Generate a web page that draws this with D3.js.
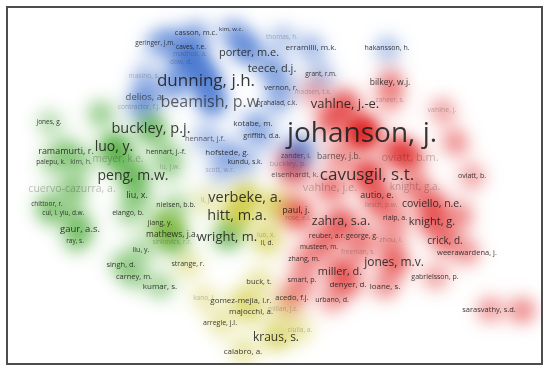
<!DOCTYPE html>
<html>
<head>
<meta charset="utf-8">
<script src="https://d3js.org/d3.v7.min.js"></script>
<style>
  body { margin: 0; background: #fff; }
  #chart { position: relative; width: 550px; height: 372px; }
  #chart canvas, #chart svg { position: absolute; left: 0; top: 0; }
  .label { font-family: "Open Sans", sans-serif; fill: #1c1c1c; text-anchor: middle; }
</style>
</head>
<body>
<div id="chart"></div>
<script>

// co-citation map: [author, map x, map y, citations]
var blueNodes = [
  ["casson, m.c.", 39.2, 6.4, 72], ["kim, w.c.", 46.2, 5.8, 46], ["thomas, h.", 56.4, 7.4, 54],
  ["geringer, j.m.", 31.0, 8.6, 54], ["caves, r.e.", 38.2, 9.4, 54], ["madhok, a.", 38.0, 10.8, 54],
  ["dow, d.", 36.2, 12.4, 54], ["porter, m.e.", 49.8, 10.4, 154], ["teece, d.j.", 54.4, 13.6, 154],
  ["makino, s.", 28.8, 15.2, 54], ["dunning, j.h.", 41.2, 16.0, 369], ["vernon, r.", 56.2, 17.4, 72],
  ["delios, a.", 29.0, 19.4, 115], ["beamish, p.w.", 42.4, 20.2, 327], ["prahalad, c.k.", 55.4, 20.6, 54],
  ["contractor, f.j.", 27.8, 21.4, 54], ["kotabe, m.", 50.6, 24.6, 82], ["griffith, d.a.", 52.4, 27.2, 63],
  ["hennart, j.f.", 41.0, 27.6, 72], ["hofstede, g.", 45.4, 30.4, 82], ["kundu, s.k.", 49.0, 32.4, 63],
  ["scott, w.r.", 44.0, 34.0, 54], ["erramilli, m.k.", 62.2, 9.4, 82], ["hakansson, h.", 77.4, 9.6, 63],
  ["grant, r.m.", 64.2, 14.8, 54], ["zander, i.", 59.2, 31.2, 63], ["kogut, b.", 34.6, 17.0, 180],
  ["hymer, s.h.", 39.0, 13.0, 200], ["anderson, e.", 34.0, 8.0, 120], ["barkema, h.g.", 48.0, 8.0, 110],
  ["gatignon, h.", 60.0, 29.6, 130]
];

var redNodes = [
  ["johanson, j.", 72.4, 26.4, 1000], ["cavusgil, s.t.", 73.4, 34.8, 369], ["vahlne, j.-e.", 69.0, 20.6, 216],
  ["bilkey, w.j.", 78.0, 16.4, 92], ["madsen, t.k.", 62.6, 18.4, 54], ["zaheer, s.", 78.0, 20.0, 54],
  ["vahlne, j.", 88.4, 22.0, 63], ["barney, j.b.", 67.8, 31.2, 92], ["buckley, p.", 57.6, 32.6, 72],
  ["eisenhardt, k.", 59.0, 34.8, 72], ["oviatt, b.m.", 82.0, 31.4, 154], ["vahlne, j.e.", 66.0, 37.4, 154],
  ["knight, g.a.", 83.0, 37.2, 128], ["oviatt, b.", 94.4, 35.2, 63], ["autio, e.", 75.4, 39.0, 103],
  ["liesch, p.w.", 76.2, 41.0, 54], ["coviello, n.e.", 86.4, 40.6, 141], ["paul, j.", 59.2, 42.0, 103],
  ["rose, e.l.", 59.6, 43.6, 54], ["zahra, s.a.", 68.2, 44.2, 199], ["rialp, a.", 79.0, 43.6, 63],
  ["knight, g.", 86.4, 44.2, 154], ["reuber, a.r.", 65.4, 47.2, 63], ["george, g.", 72.4, 47.2, 63],
  ["zhou, l.", 78.2, 48.0, 63], ["crick, d.", 89.0, 48.0, 128], ["musteen, m.", 63.8, 49.4, 54],
  ["weerawardena, j.", 93.4, 50.4, 72], ["freeman, s.", 71.6, 50.4, 54], ["zhang, m.", 60.8, 51.8, 63],
  ["jones, m.v.", 78.8, 52.4, 184], ["miller, d.", 68.0, 54.2, 154], ["smart, p.", 60.4, 56.0, 63],
  ["denyer, d.", 69.6, 56.8, 82], ["loane, s.", 77.0, 57.2, 82], ["gabrielsson, p.", 87.0, 55.4, 63],
  ["urbano, d.", 66.4, 60.0, 63], ["sarasvathy, s.d.", 97.8, 61.8, 72], ["acedo, f.j.", 58.4, 59.4, 72],
  ["read, s.", 104.4, 62.0, 100], ["mcdougall, p.p.", 79.4, 30.0, 260], ["knight, j.", 91.0, 28.4, 90],
  ["bell, j.", 92.0, 43.0, 90], ["welch, l.s.", 66.0, 24.0, 200]
];

var greenNodes = [
  ["jones, g.", 9.8, 24.4, 54], ["buckley, p.j.", 30.2, 25.6, 268], ["luo, y.", 22.8, 29.2, 250],
  ["ramamurti, r.", 13.2, 30.2, 103], ["meyer, k.e.", 23.6, 31.6, 128], ["kim, h.", 16.2, 32.4, 63],
  ["palepu, k.", 10.2, 32.4, 54], ["hennart, j.-f.", 33.2, 30.4, 63], ["lu, j.w.", 34.0, 33.4, 63],
  ["peng, m.w.", 26.6, 35.0, 250], ["cuervo-cazurra, a.", 14.4, 37.6, 141], ["liu, x.", 27.4, 39.0, 103],
  ["chittoor, r.", 9.4, 40.8, 54], ["nielsen, b.b.", 35.2, 41.0, 63], ["cui, l.", 10.0, 42.6, 54],
  ["yiu, d.w.", 14.4, 42.6, 54], ["elango, b.", 25.6, 42.6, 63], ["jiang, y.", 32.0, 44.6, 63],
  ["gaur, a.s.", 16.0, 45.8, 115], ["mathews, j.a.", 34.4, 46.8, 92], ["sinkovics, r.r.", 34.4, 48.4, 54],
  ["ray, s.", 15.0, 48.2, 54], ["wright, m.", 45.4, 47.2, 216], ["liu, y.", 28.2, 50.0, 63],
  ["singh, d.", 24.2, 52.8, 72], ["carney, m.", 26.8, 55.2, 72], ["kumar, s.", 32.0, 57.2, 82],
  ["kostova, t.", 20.0, 22.6, 110]
];

var yellowNodes = [
  ["verbeke, a.", 49.0, 39.4, 268], ["hitt, m.a.", 47.4, 43.0, 268], ["rugman, a.m.", 55.0, 41.0, 200],
  ["li, j.", 41.2, 40.0, 54], ["luo, x.", 53.2, 47.0, 54], ["li, d.", 53.4, 48.6, 54],
  ["strange, r.", 37.6, 52.8, 63], ["buck, t.", 51.8, 56.2, 72], ["kano, l.", 40.8, 59.6, 54],
  ["gomez-mejia, l.r.", 48.2, 60.0, 82], ["majocchi, a.", 50.2, 62.2, 82], ["millan, j.c.", 56.6, 61.8, 54],
  ["arregle, j.l.", 44.0, 64.6, 63], ["kraus, s.", 55.2, 67.4, 184], ["ciulla, a.", 60.0, 66.0, 54],
  ["calabro, a.", 48.6, 70.2, 82], ["yamakawa, y.", 33.6, 45.6, 80]
];

// labels drawn half-transparent / nearly hidden / not at all
var greyLabels = ["delios, a.", "beamish, p.w.", "hennart, j.f.", "zander, i.", "eisenhardt, k.",
  "barney, j.b.", "kim, h."];
var fadedLabels = ["thomas, h.", "madhok, a.", "dow, d.", "makino, s.", "contractor, f.j.", "scott, w.r.",
  "madsen, t.k.", "zaheer, s.", "vahlne, j.", "buckley, p.", "oviatt, b.m.", "vahlne, j.e.", "knight, g.a.",
  "liesch, p.w.", "rose, e.l.", "zhou, l.", "freeman, s.", "meyer, k.e.", "lu, j.w.", "cuervo-cazurra, a.",
  "sinkovics, r.r.", "li, j.", "luo, x.", "kano, l.", "millan, j.c.", "ciulla, a."];
var hiddenLabels = ["read, s.", "rugman, a.m.", "kogut, b.", "mcdougall, p.p.", "knight, j.", "bell, j.",
  "kostova, t.", "yamakawa, y.", "hymer, s.h.", "anderson, e.", "barkema, h.g.", "gatignon, h.", "welch, l.s."];

var clusterColors = [[62, 112, 206], [222, 26, 26], [66, 166, 46], [204, 198, 46]];

var width = 550, height = 372;

var nodes = [];
[blueNodes, redNodes, greenNodes, yellowNodes].forEach(function(list, c) {
  list.forEach(function(d) {
    nodes.push({ name: d[0], x: d[1], y: d[2], w: d[3], cluster: c });
  });
});

var x = d3.scaleLinear().domain([0, 110]).range([0, width]);
var y = d3.scaleLinear().domain([0, 74.4]).range([0, height]);
var fontSize = d3.scaleSqrt().domain([0, 1000]).range([0, 28]);

// frame of the map
var frame = { x0: 8, y0: 8, x1: 542, y1: 364 };

// density layer
var canvas = d3.select("#chart").append("canvas")
    .attr("width", width)
    .attr("height", height);
var ctx = canvas.node().getContext("2d");
var img = ctx.createImageData(width, height);

var sigma = 12, s2 = 2 * sigma * sigma, cut = sigma * 3.5;
var K = 17;
var pts = nodes.map(function(d) {
  return { px: x(d.x), py: y(d.y), a: Math.sqrt(d.w), c: d.cluster };
});

for (var j = 0; j < height; j++) {
  for (var i = 0; i < width; i++) {
    var k = (j * width + i) * 4;
    var r = 255, g = 255, b = 255;
    if (i >= frame.x0 && i < frame.x1 && j >= frame.y0 && j < frame.y1) {
      var dens = [0, 0, 0, 0];
      for (var p = 0; p < pts.length; p++) {
        var dx = i - pts[p].px, dy = j - pts[p].py;
        if (dx > cut || dx < -cut || dy > cut || dy < -cut) continue;
        dens[pts[p].c] += pts[p].a * Math.exp(-(dx * dx + dy * dy) / s2);
      }
      var tot = dens[0] + dens[1] + dens[2] + dens[3];
      if (tot > 0.01) {
        var cr = 0, cg = 0, cb = 0;
        for (var c = 0; c < 4; c++) {
          cr += dens[c] * clusterColors[c][0];
          cg += dens[c] * clusterColors[c][1];
          cb += dens[c] * clusterColors[c][2];
        }
        cr /= tot; cg /= tot; cb /= tot;
        var t = 1 - Math.exp(-Math.pow(tot / K, 1.4));
        r = 255 + (cr - 255) * t;
        g = 255 + (cg - 255) * t;
        b = 255 + (cb - 255) * t;
      }
    }
    img.data[k] = r; img.data[k + 1] = g; img.data[k + 2] = b; img.data[k + 3] = 255;
  }
}
ctx.putImageData(img, 0, 0);

// labels and frame
var svg = d3.select("#chart").append("svg")
    .attr("width", width)
    .attr("height", height);

svg.append("rect")
    .attr("x", 7).attr("y", 7)
    .attr("width", 535).attr("height", 357)
    .attr("fill", "none")
    .attr("stroke", "#4d4d4d")
    .attr("stroke-width", 2);

svg.selectAll("text.label")
    .data(nodes.filter(function(d) { return hiddenLabels.indexOf(d.name) < 0; })
               .sort(function(a, b) { return a.w - b.w; }))
    .enter().append("text")
      .attr("class", "label")
      .attr("x", function(d) { return x(d.x); })
      .attr("y", function(d) { return y(d.y); })
      .attr("dy", "0.35em")
      .style("font-size", function(d) { return fontSize(d.w) + "px"; })
      .style("opacity", function(d) {
        if (fadedLabels.indexOf(d.name) >= 0) return 0.28;
        if (greyLabels.indexOf(d.name) >= 0) return 0.68;
        return 0.88;
      })
      .text(function(d) { return d.name; });

</script>
</body>
</html>
